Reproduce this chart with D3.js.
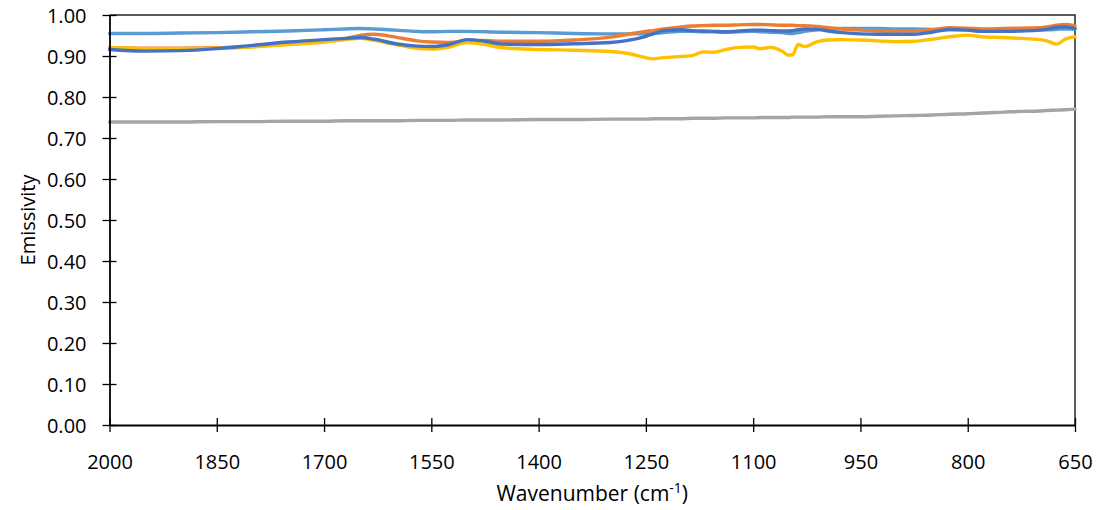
<!DOCTYPE html>
<html>
<head>
<meta charset="utf-8">
<script src="https://cdn.jsdelivr.net/npm/d3@7"></script>
<style>
  html, body { margin: 0; padding: 0; background: #fff; }
  svg { display: block; font-family: "Open Sans", "Liberation Sans", sans-serif; }
</style>
</head>
<body>
<svg id="chart" width="1102" height="510"></svg>
<script>
// Wavenumbers (cm^-1) at which the spectra are sampled
const wavenumbers = [2000,1950,1900,1850,1800,1750,1700,1670,1650,1630,1600,1570,1550,1525,1500,1475,1450,1400,1350,1300,1275,1250,1240,1225,1200,1185,1170,1155,1140,1120,1100,1090,1075,1060,1050,1045,1037,1028,1010,995,975,950,925,900,875,850,825,800,780,750,725,700,690,675,664,650];

// Emissivity spectra
const spectrum1 = [.955,.955,.956,.957,.959,.961,.964,.966,.967,.966,.963,.960,.959,.960,.960,.959,.958,.957,.955,.954,.954,.954,.955,.957,.960,.960,.959,.959,.958,.959,.960,.959,.958,.957,.955,.955,.957,.960,.964,.966,.967,.967,.967,.966,.966,.965,.964,.964,.963,.963,.964,.964,.964,.965,.966,.966];
const spectrum2 = [.920,.919,.919,.920,.924,.929,.935,.942,.950,.953,.946,.937,.934,.933,.937,.938,.936,.936,.939,.946,.953,.960,.962,.966,.971,.973,.974,.975,.975,.976,.977,.977,.976,.975,.975,.975,.974,.974,.972,.969,.966,.963,.961,.961,.961,.964,.969,.968,.966,.967,.968,.969,.971,.975,.977,.974];
const spectrum3 = [.739,.739,.739,.740,.740,.741,.741,.742,.742,.742,.742,.743,.743,.743,.744,.744,.744,.745,.745,.746,.746,.746,.747,.747,.747,.748,.748,.748,.749,.749,.749,.750,.750,.750,.750,.751,.751,.751,.751,.752,.752,.752,.753,.754,.755,.756,.758,.759,.761,.763,.765,.766,.767,.768,.769,.770];
const spectrum4 = [.920,.918,.918,.919,.922,.928,.934,.940,.943,.938,.928,.919,.917,.922,.933,.928,.920,.916,.914,.911,.906,.896,.893,.896,.899,.901,.910,.909,.915,.921,.922,.918,.921,.912,.902,.903,.928,.923,.935,.939,.940,.939,.937,.935,.936,.941,.947,.951,.947,.945,.943,.940,.937,.929,.941,.947];
const spectrum5 = [.916,.912,.913,.918,.926,.934,.940,.943,.945,.941,.930,.924,.923,.928,.940,.936,.929,.928,.930,.933,.938,.948,.954,.962,.964,.962,.961,.960,.959,.961,.963,.963,.962,.961,.961,.962,.964,.966,.965,.961,.957,.954,.953,.953,.953,.958,.965,.963,.960,.960,.961,.963,.965,.970,.971,.967];

const seriesColors = ["#5B9BD5", "#ED7D31", "#A5A5A5", "#FFC000", "#4472C4"];

// Axis ticks
const xTicks = [2000,1850,1700,1550,1400,1250,1100,950,800,650];
const yTicks = [0,0.1,0.2,0.3,0.4,0.5,0.6,0.7,0.8,0.9,1.0];

const svg = d3.select("#chart");
const W = 1102, H = 510;
const plot = { left: 109.5, right: 1075, top: 15, bottom: 425 };
const font = "'Open Sans', sans-serif";

svg.append("rect").attr("width", W).attr("height", H).attr("fill", "#fff");

const x = d3.scaleLinear().domain([2000, 650]).range([plot.left, plot.right]);
const y = d3.scaleLinear().domain([0, 1]).range([plot.bottom, plot.top]);

// Plot-area frame (top and right)
svg.append("path")
  .attr("d", `M${plot.left},${plot.top}H${plot.right}V${plot.bottom}`)
  .attr("fill", "none").attr("stroke", "#262626").attr("stroke-width", 1.5);

// Spectra
const series = [spectrum1, spectrum2, spectrum3, spectrum4, spectrum5];
const line = d3.line()
  .x((d, i) => x(wavenumbers[i]))
  .y(d => y(d))
  .curve(d3.curveMonotoneX);

const lines = svg.append("g").attr("fill", "none")
  .attr("stroke-width", 3.4).attr("stroke-linejoin", "round").attr("stroke-linecap", "round");
series.forEach((vals, k) => {
  lines.append("path").attr("d", line(vals)).attr("stroke", seriesColors[k]);
});

// Y axis with crossing ticks
const yAxis = svg.append("g")
  .attr("transform", `translate(${plot.left},0)`)
  .call(d3.axisLeft(y).tickValues(yTicks).tickFormat(d3.format(".2f")).tickSizeOuter(0));
yAxis.select(".domain").attr("stroke", "#000").attr("stroke-width", 1.8);
yAxis.selectAll(".tick line").attr("x1", -7).attr("x2", 7).attr("stroke", "#000").attr("stroke-width", 1.3);
yAxis.selectAll(".tick text").attr("x", -23).attr("dy", "0.35em")
  .attr("font-size", 20).attr("font-family", font).attr("fill", "#000");

// X axis with crossing ticks
const xAxis = svg.append("g")
  .attr("transform", `translate(0,${plot.bottom})`)
  .call(d3.axisBottom(x).tickValues(xTicks).tickFormat(d3.format("d")).tickSizeOuter(0));
xAxis.select(".domain").attr("stroke", "#000").attr("stroke-width", 1.8);
xAxis.selectAll(".tick line").attr("y1", -7).attr("y2", 7).attr("stroke", "#000").attr("stroke-width", 1.3);
xAxis.selectAll(".tick text").attr("y", 44).attr("dy", 0)
  .attr("font-size", 20).attr("font-family", font).attr("fill", "#000");

// Axis titles
svg.append("text")
  .attr("transform", `translate(35,${(plot.top + plot.bottom) / 2}) rotate(-90)`)
  .attr("text-anchor", "middle").attr("font-size", 20).attr("font-family", font).attr("fill", "#000")
  .text("Emissivity");

const xt = svg.append("text")
  .attr("x", (plot.left + plot.right) / 2).attr("y", 501)
  .attr("text-anchor", "middle").attr("font-size", 21).attr("font-family", font).attr("fill", "#000");
xt.append("tspan").text("Wavenumber (cm");
xt.append("tspan").attr("dy", -8).attr("font-size", 14).text("-1");
xt.append("tspan").attr("dy", 8).text(")");
</script>
</body>
</html>
